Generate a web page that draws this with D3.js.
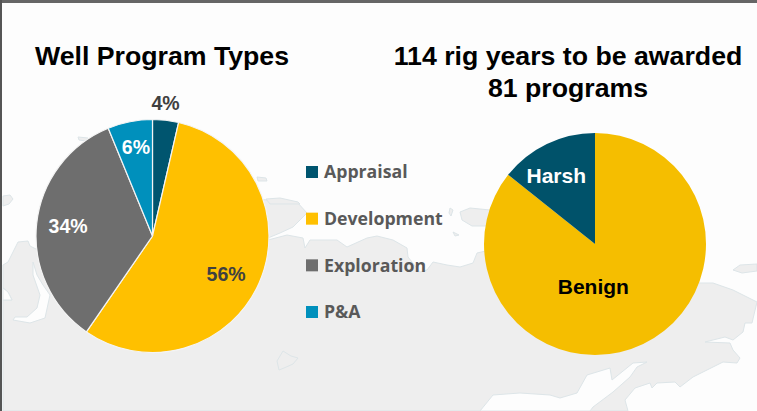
<!DOCTYPE html>
<html>
<head>
<meta charset="utf-8">
<script src="https://cdn.jsdelivr.net/npm/d3@7/dist/d3.min.js"></script>
<style>
  html, body { margin: 0; padding: 0; background: #fdfdfd; }
  svg { display: block; }
</style>
</head>
<body>
<div id="chartArea"></div>
<script>
const programTypes = ['Appraisal', 'Development', 'Exploration', 'P&A']
const programShares = [3.6, 56, 34.2, 6.2]
const programLabels = ['4%', '56%', '34%', '6%']
const programColors = ['#00556f', '#ffc000', '#6e6e6e', '#0090bc']

const climates = ['Benign', 'Harsh']
const climateShares = [85.7, 14.3]
const climateColors = ['#f5be00', '#00526a']

const width = 757
const height = 411

const svg = d3.select('#chartArea')
              .append('svg')
              .attr('width', width)
              .attr('height', height)

// map behind the charts, traced by eye
const coast = [[3,411],[3,300],[12,300],[8,292],[3,288],[3,265],[8,262],[14,250],[18,242],[28,241],[30,246],[38,250],[60,240],
  [268,240],[287,235],[303,238],[305,248],[310,240],[337,240],[347,247],[367,238],[377,236],[393,240],[407,248],[408,257],
  [420,272],[427,270],[433,262],[447,265],[460,267],[473,263],[477,253],[490,250],[600,260],[700,283],[713,283],[733,290],
  [753,300],[757,302],[752,323],[745,323],[743,332],[733,340],[725,337],[705,342],[730,343],[733,350],[740,358],[737,363],
  [723,362],[693,377],[680,387],[675,382],[657,383],[652,388],[650,383],[635,388],[625,400],[628,411]]
const bay = [[480,411],[493,395],[520,393],[550,395],[560,398],[577,393],[587,375],[610,368],[612,380],[633,363],[647,362],
  [637,367],[630,377],[613,392],[593,407],[590,411]]
const channel = [[33,262],[37,275],[43,285],[50,295],[45,318],[30,323],[13,320],[15,317],[27,317],[37,308],[40,295],[33,275]]
const whiteCut = [[3,288],[8,292],[12,300],[3,300]]
const upperLobe = [[250,198],[267,200],[297,202],[307,213],[293,227],[280,233],[268,238],[250,238]]
const islands = [
  [[3,196],[10,195],[13,199],[9,204],[3,206]],
  [[460,212],[470,208],[490,210],[490,226],[472,226],[462,220]],
  [[733,270],[740,265],[757,264],[757,271],[742,273]],
  [[257,177],[266,178],[267,181],[258,181]],
  [[266,199],[280,198],[298,202],[300,204],[270,204]],
  [[78,137],[88,138],[86,141],[79,140]],
  [[450,208],[453,210],[451,216],[449,213]],
  [[453,232],[459,235],[455,236]],
  [[277,361],[283,351],[291,356],[298,358],[293,364],[284,368],[279,370]]
]

const landLine = d3.line()
const land = svg.append('g')
                .attr('fill', '#eeeeee')
                .attr('stroke', '#dde5e8')
                .attr('stroke-width', 1)

land.selectAll('.land')
    .data([coast, upperLobe].concat(islands))
    .enter()
    .append('path')
    .attr('class', 'land')
    .attr('d', d => landLine(d) + 'Z')

land.selectAll('.water')
    .data([bay, channel, whiteCut])
    .enter()
    .append('path')
    .attr('class', 'water')
    .attr('fill', '#fdfdfd')
    .attr('d', d => landLine(d) + 'Z')

// slide frame
svg.append('rect').attr('width', width).attr('height', 3).attr('fill', '#666666')
svg.append('rect').attr('width', 2).attr('height', height).attr('fill', '#555555')

// left pie
const programCenter = [152.5, 236]
const programRadius = 116.5
const programPie = d3.pie().sort(null)(programShares)
const programArc = d3.arc().innerRadius(0).outerRadius(programRadius)

const programG = svg.append('g')
                    .attr('transform', 'translate(' + programCenter[0] + ',' + programCenter[1] + ')')

programG.selectAll('path')
        .data(programPie)
        .enter()
        .append('path')
        .attr('d', programArc)
        .attr('fill', (d, i) => programColors[i])
        .attr('stroke', '#f4f4f4')
        .attr('stroke-width', 1.2)

// label radius as a fraction of the pie, then a small nudge
const labelFraction = [1.145, 0.7, 0.72, 0.78]
const labelNudge = [[-2, 0], [-1, 5], [-1, -1], [1, 0]]
const labelColors = ['#404040', '#404040', '#ffffff', '#ffffff']

programG.selectAll('text')
        .data(programPie)
        .enter()
        .append('text')
        .attr('transform', (d, i) => {
          const r = programRadius * labelFraction[i]
          const c = d3.arc().innerRadius(r).outerRadius(r).centroid(d)
          return 'translate(' + (c[0] + labelNudge[i][0]) + ',' + (c[1] + labelNudge[i][1]) + ')'
        })
        .attr('text-anchor', 'middle')
        .attr('dy', '0.36em')
        .attr('font-family', '"Liberation Sans", Arial, sans-serif')
        .attr('font-weight', 'bold')
        .attr('font-size', 19.5)
        .attr('fill', (d, i) => labelColors[i])
        .text((d, i) => programLabels[i])

// legend
const legendY = d3.scalePoint().domain(programTypes).range([172, 312])

const legend = svg.selectAll('.legend')
                  .data(programTypes)
                  .enter()
                  .append('g')
                  .attr('class', 'legend')
                  .attr('transform', d => 'translate(306,' + legendY(d) + ')')

legend.append('rect')
      .attr('y', -6)
      .attr('width', 12)
      .attr('height', 12)
      .attr('fill', (d, i) => programColors[i])

legend.append('text')
      .attr('x', 18)
      .attr('dy', '0.36em')
      .attr('font-family', '"Open Sans", sans-serif')
      .attr('font-weight', 'bold')
      .attr('font-size', 17.7)
      .attr('fill', '#595959')
      .text(d => d)

// right pie
const climateCenter = [595, 244]
const climateRadius = 111
const climatePie = d3.pie().sort(null)(climateShares)
const climateArc = d3.arc().innerRadius(0).outerRadius(climateRadius)

const climateG = svg.append('g')
                    .attr('transform', 'translate(' + climateCenter[0] + ',' + climateCenter[1] + ')')

climateG.selectAll('path')
        .data(climatePie)
        .enter()
        .append('path')
        .attr('d', climateArc)
        .attr('fill', (d, i) => climateColors[i])

const climateFraction = [0.38, 0.72]
const climateNudge = [[-20, 4], [-4, 3]]
const climateTextColors = ['#000000', '#ffffff']

climateG.selectAll('text')
        .data(climatePie)
        .enter()
        .append('text')
        .attr('transform', (d, i) => {
          const r = climateRadius * climateFraction[i]
          const c = d3.arc().innerRadius(r).outerRadius(r).centroid(d)
          return 'translate(' + (c[0] + climateNudge[i][0]) + ',' + (c[1] + climateNudge[i][1]) + ')'
        })
        .attr('text-anchor', 'middle')
        .attr('dy', '0.36em')
        .attr('font-family', '"Liberation Sans", Arial, sans-serif')
        .attr('font-weight', 'bold')
        .attr('font-size', 21)
        .attr('fill', (d, i) => climateTextColors[i])
        .text((d, i) => climates[i])

// titles
const titles = [
  {text: 'Well Program Types', x: 162, y: 65},
  {text: '114 rig years to be awarded', x: 568, y: 65},
  {text: '81 programs', x: 568, y: 97}
]

svg.selectAll('.title')
   .data(titles)
   .enter()
   .append('text')
   .attr('class', 'title')
   .attr('x', d => d.x)
   .attr('y', d => d.y)
   .attr('text-anchor', 'middle')
   .attr('font-family', '"Liberation Sans", Arial, sans-serif')
   .attr('font-weight', 'bold')
   .attr('font-size', 26.7)
   .attr('fill', '#000000')
   .text(d => d.text)
</script>
</body>
</html>
